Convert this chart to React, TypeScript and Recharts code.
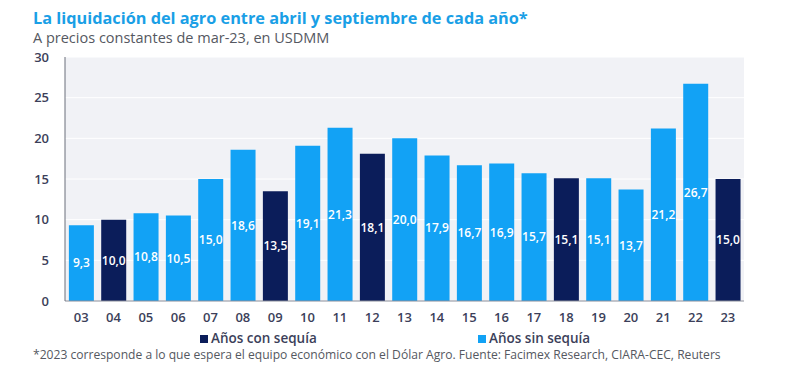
import React from "react";
import { BarChart, Bar, XAxis, YAxis, CartesianGrid, Cell, LabelList } from "recharts";

const years = ["03","04","05","06","07","08","09","10","11","12","13","14","15","16","17","18","19","20","21","22","23"];
const values = [9.3,10.0,10.8,10.5,15.0,18.6,13.5,19.1,21.3,18.1,20.0,17.9,16.7,16.9,15.7,15.1,15.1,13.7,21.2,26.7,15.0];
const drought = [false,true,false,false,false,false,true,false,false,true,false,false,false,false,false,true,false,false,false,false,true];
const yTicks = [0,5,10,15,20,25,30];
const legendLabels = ["Años con sequía", "Años sin sequía"];

const LIGHT = "#12a2f5";
const DARK = "#0b1d5a";
const FONT = "'Open Sans', 'Noto Sans', sans-serif";

const data = years.map((y, i) => ({ year: y, value: values[i], drought: drought[i] }));

const fmt = (v: any) => Number(v).toFixed(1).replace(".", ",");

const LegendItem = ({ left, color, label }: { left: number; color: string; label: string }) => (
  <div style={{ position: "absolute", left, top: 331, height: 15, lineHeight: "15px", display: "flex", alignItems: "center", fontSize: 13.5, color: "#3c3f5a", fontWeight: 600, whiteSpace: "nowrap" }}>
    <span style={{ width: 8, height: 8, background: color, display: "inline-block", marginRight: 3 }} />
    {label}
  </div>
);

export default function App() {
  return (
    <div style={{ position: "absolute", left: 0, top: 0, width: 800, height: 378, background: "#fff", fontFamily: FONT }}>
      <div style={{ position: "absolute", left: 33, top: 7, fontSize: 16.3, fontWeight: 700, color: "#1a9fe6", whiteSpace: "nowrap" }}>
        La liquidación del agro entre abril y septiembre de cada año*
      </div>
      <div style={{ position: "absolute", left: 33, top: 28, fontSize: 14.5, color: "#555861", whiteSpace: "nowrap" }}>
        A precios constantes de mar-23, en USDMM
      </div>
      <BarChart
        width={800}
        height={378}
        data={data}
        margin={{ top: 57, right: 56, bottom: 47, left: 25 }}
        barCategoryGap="12%"
      >
        <CartesianGrid vertical={false} stroke="#ffffff" fill="#f1f2f6" />
        <XAxis
          dataKey="year"
          height={30}
          tickLine={false}
          axisLine={{ stroke: "#8a8d99" }}
          tick={{ fill: "#3c3f5a", fontSize: 13, fontWeight: 600, fontFamily: FONT }}
          interval={0}
          tickMargin={6}
        />
        <YAxis
          domain={[0, 30]}
          ticks={yTicks}
          width={40}
          tickLine={false}
          axisLine={{ stroke: "#6b6e7a" }}
          tick={{ fill: "#3c3f5a", fontSize: 13, fontWeight: 600, fontFamily: FONT }}
          tickMargin={10}
        />
        <Bar dataKey="value" isAnimationActive={false}>
          {data.map((d, i) => (
            <Cell key={i} fill={d.drought ? DARK : LIGHT} />
          ))}
          <LabelList dataKey="value" position="center" formatter={fmt} fill="#ffffff" fontSize={12} fontWeight={600} fontFamily={FONT} />
        </Bar>
      </BarChart>
      <LegendItem left={200} color={DARK} label={legendLabels[0]} />
      <LegendItem left={478} color={LIGHT} label={legendLabels[1]} />
      <div style={{ position: "absolute", left: 33, top: 347, height: 15, lineHeight: "15px", fontSize: 12.1, color: "#555861", whiteSpace: "nowrap" }}>
        *2023 corresponde a lo que espera el equipo económico con el Dólar Agro. Fuente: Facimex Research, CIARA-CEC, Reuters
      </div>
    </div>
  );
}
